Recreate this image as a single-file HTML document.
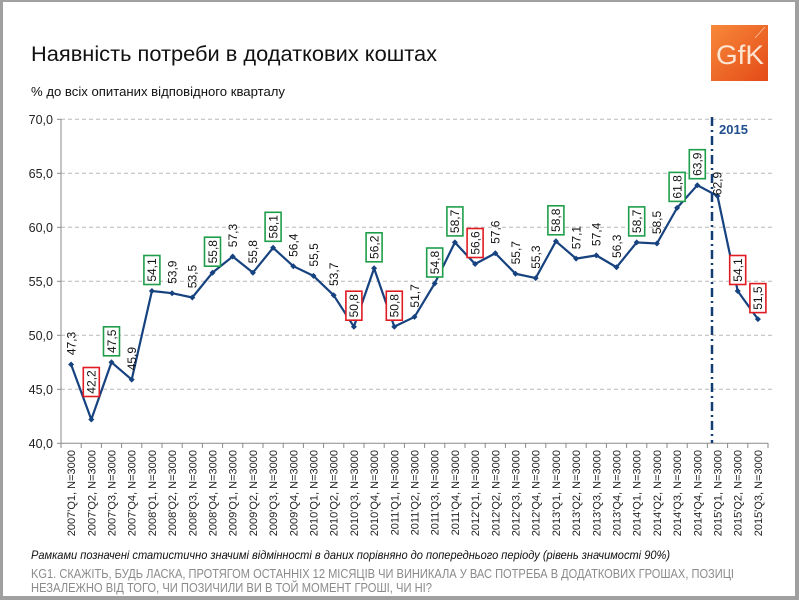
<!DOCTYPE html>
<html><head><meta charset="utf-8"><style>
html,body{margin:0;padding:0;background:#a0a0a0;}
svg{display:block;}
</style></head><body>
<svg width="799" height="600" viewBox="0 0 799 600" xmlns="http://www.w3.org/2000/svg" font-family="'Liberation Sans', Arial, sans-serif">
<defs>
<linearGradient id="gfk" x1="0" y1="0" x2="1" y2="1">
<stop offset="0" stop-color="#f7893a"/><stop offset="1" stop-color="#e44a17"/>
</linearGradient>
</defs>
<rect x="0" y="0" width="799" height="600" fill="#a0a0a0"/>
<rect x="3" y="2" width="792" height="594" fill="#ffffff"/>

<!-- Title -->
<text x="31" y="61" font-size="21" fill="#111" textLength="406" lengthAdjust="spacingAndGlyphs">Наявність потреби в додаткових коштах</text>
<text x="31" y="96" font-size="12.5" fill="#111" textLength="254" lengthAdjust="spacingAndGlyphs">% до всіх опитаних відповідного кварталу</text>

<!-- GfK logo -->
<rect x="711" y="25" width="57" height="56" fill="url(#gfk)"/>
<line x1="765" y1="27" x2="755" y2="38" stroke="#ffd9c0" stroke-width="0.8" opacity="0.8"/>
<text x="716" y="64" font-size="27" fill="#fff3e6" fill-opacity="0.9" textLength="48" lengthAdjust="spacingAndGlyphs">GfK</text>

<!-- gridlines -->
<g stroke="#b8b8b8" stroke-width="1" stroke-dasharray="4 3">
<line x1="61" y1="119.3" x2="772" y2="119.3"/>
<line x1="61" y1="173.3" x2="772" y2="173.3"/>
<line x1="61" y1="227.3" x2="772" y2="227.3"/>
<line x1="61" y1="281.3" x2="772" y2="281.3"/>
<line x1="61" y1="335.3" x2="772" y2="335.3"/>
<line x1="61" y1="389.3" x2="772" y2="389.3"/>
</g>
<!-- axes -->
<g stroke="#8a8a8a" stroke-width="1">
<line x1="61" y1="119" x2="61" y2="443.3"/>
<line x1="61" y1="443.3" x2="768" y2="443.3"/>
<line x1="57" y1="119.3" x2="61" y2="119.3"/>
<line x1="57" y1="173.3" x2="61" y2="173.3"/>
<line x1="57" y1="227.3" x2="61" y2="227.3"/>
<line x1="57" y1="281.3" x2="61" y2="281.3"/>
<line x1="57" y1="335.3" x2="61" y2="335.3"/>
<line x1="57" y1="389.3" x2="61" y2="389.3"/>
<line x1="57" y1="443.3" x2="61" y2="443.3"/>
</g>
<g stroke="#8a8a8a" stroke-width="1">
<line x1="61" y1="443" x2="61" y2="448"/><line x1="81.2" y1="443" x2="81.2" y2="448"/><line x1="101.4" y1="443" x2="101.4" y2="448"/><line x1="121.6" y1="443" x2="121.6" y2="448"/><line x1="141.8" y1="443" x2="141.8" y2="448"/><line x1="162" y1="443" x2="162" y2="448"/><line x1="182.2" y1="443" x2="182.2" y2="448"/><line x1="202.4" y1="443" x2="202.4" y2="448"/><line x1="222.6" y1="443" x2="222.6" y2="448"/><line x1="242.8" y1="443" x2="242.8" y2="448"/><line x1="263" y1="443" x2="263" y2="448"/><line x1="283.2" y1="443" x2="283.2" y2="448"/><line x1="303.4" y1="443" x2="303.4" y2="448"/><line x1="323.6" y1="443" x2="323.6" y2="448"/><line x1="343.8" y1="443" x2="343.8" y2="448"/><line x1="364" y1="443" x2="364" y2="448"/><line x1="384.2" y1="443" x2="384.2" y2="448"/><line x1="404.4" y1="443" x2="404.4" y2="448"/><line x1="424.6" y1="443" x2="424.6" y2="448"/><line x1="444.8" y1="443" x2="444.8" y2="448"/><line x1="465" y1="443" x2="465" y2="448"/><line x1="485.2" y1="443" x2="485.2" y2="448"/><line x1="505.4" y1="443" x2="505.4" y2="448"/><line x1="525.6" y1="443" x2="525.6" y2="448"/><line x1="545.8" y1="443" x2="545.8" y2="448"/><line x1="566" y1="443" x2="566" y2="448"/><line x1="586.2" y1="443" x2="586.2" y2="448"/><line x1="606.4" y1="443" x2="606.4" y2="448"/><line x1="626.6" y1="443" x2="626.6" y2="448"/><line x1="646.8" y1="443" x2="646.8" y2="448"/><line x1="667" y1="443" x2="667" y2="448"/><line x1="687.2" y1="443" x2="687.2" y2="448"/><line x1="707.4" y1="443" x2="707.4" y2="448"/><line x1="727.6" y1="443" x2="727.6" y2="448"/><line x1="747.8" y1="443" x2="747.8" y2="448"/><line x1="768" y1="443" x2="768" y2="448"/>
</g>

<!-- y labels -->
<g font-size="12.5" fill="#222" text-anchor="end">
<text x="53" y="124">70,0</text>
<text x="53" y="178">65,0</text>
<text x="53" y="232">60,0</text>
<text x="53" y="286">55,0</text>
<text x="53" y="340">50,0</text>
<text x="53" y="394">45,0</text>
<text x="53" y="448">40,0</text>
</g>

<!-- 2015 divider -->
<line x1="712" y1="117" x2="712" y2="443" stroke="#123d73" stroke-width="2.5" stroke-dasharray="9 4 2 4"/>
<text x="719" y="134" font-size="13" font-weight="bold" fill="#1f4e8c">2015</text>

<!-- series -->
<polyline fill="none" stroke="#16427f" stroke-width="2.2" stroke-linejoin="round" points="71.1,364.46 91.3,419.54 111.5,362.3 131.7,379.58 151.9,291.02 172.1,293.18 192.3,297.5 212.5,272.66 232.7,256.46 252.9,272.66 273.1,247.82 293.3,266.18 313.5,275.9 333.7,295.34 353.9,326.66 374.1,268.34 394.3,326.66 414.5,316.94 434.7,283.46 454.9,242.42 475.1,264.02 495.3,253.22 515.5,273.74 535.7,278.06 555.9,241.34 576.1,258.62 596.3,255.38 616.5,267.26 636.7,242.42 656.9,243.5 677.1,207.86 697.3,185.18 717.5,195.98 737.7,291.02 757.9,319.1"/>
<g fill="#16427f">
<path d="M71.1,361.5l3,3l-3,3l-3,-3z"/><path d="M91.3,416.5l3,3l-3,3l-3,-3z"/><path d="M111.5,359.3l3,3l-3,3l-3,-3z"/><path d="M131.7,376.6l3,3l-3,3l-3,-3z"/><path d="M151.9,288l3,3l-3,3l-3,-3z"/><path d="M172.1,290.2l3,3l-3,3l-3,-3z"/><path d="M192.3,294.5l3,3l-3,3l-3,-3z"/><path d="M212.5,269.7l3,3l-3,3l-3,-3z"/><path d="M232.7,253.5l3,3l-3,3l-3,-3z"/><path d="M252.9,269.7l3,3l-3,3l-3,-3z"/><path d="M273.1,244.8l3,3l-3,3l-3,-3z"/><path d="M293.3,263.2l3,3l-3,3l-3,-3z"/><path d="M313.5,272.9l3,3l-3,3l-3,-3z"/><path d="M333.7,292.3l3,3l-3,3l-3,-3z"/><path d="M353.9,323.7l3,3l-3,3l-3,-3z"/><path d="M374.1,265.3l3,3l-3,3l-3,-3z"/><path d="M394.3,323.7l3,3l-3,3l-3,-3z"/><path d="M414.5,313.9l3,3l-3,3l-3,-3z"/><path d="M434.7,280.5l3,3l-3,3l-3,-3z"/><path d="M454.9,239.4l3,3l-3,3l-3,-3z"/><path d="M475.1,261l3,3l-3,3l-3,-3z"/><path d="M495.3,250.2l3,3l-3,3l-3,-3z"/><path d="M515.5,270.7l3,3l-3,3l-3,-3z"/><path d="M535.7,275.1l3,3l-3,3l-3,-3z"/><path d="M555.9,238.3l3,3l-3,3l-3,-3z"/><path d="M576.1,255.6l3,3l-3,3l-3,-3z"/><path d="M596.3,252.4l3,3l-3,3l-3,-3z"/><path d="M616.5,264.3l3,3l-3,3l-3,-3z"/><path d="M636.7,239.4l3,3l-3,3l-3,-3z"/><path d="M656.9,240.5l3,3l-3,3l-3,-3z"/><path d="M677.1,204.9l3,3l-3,3l-3,-3z"/><path d="M697.3,182.2l3,3l-3,3l-3,-3z"/><path d="M717.5,193l3,3l-3,3l-3,-3z"/><path d="M737.7,288l3,3l-3,3l-3,-3z"/><path d="M757.9,316.1l3,3l-3,3l-3,-3z"/>
</g>

<!-- label boxes -->
<g fill="#fff" stroke-width="1.6">
<rect x="83.3" y="367.5" width="16" height="29" stroke="#e01b22"/>
<rect x="103.5" y="326.8" width="16" height="29" stroke="#1e9e4a"/>
<rect x="143.9" y="255.5" width="16" height="29" stroke="#1e9e4a"/>
<rect x="204.5" y="237.2" width="16" height="29" stroke="#1e9e4a"/>
<rect x="265.1" y="212.3" width="16" height="29" stroke="#1e9e4a"/>
<rect x="345.9" y="291.2" width="16" height="29" stroke="#e01b22"/>
<rect x="366.1" y="232.8" width="16" height="29" stroke="#1e9e4a"/>
<rect x="386.3" y="291.2" width="16" height="29" stroke="#e01b22"/>
<rect x="426.7" y="248" width="16" height="29" stroke="#1e9e4a"/>
<rect x="446.9" y="206.9" width="16" height="29" stroke="#1e9e4a"/>
<rect x="467.1" y="228.5" width="16" height="29" stroke="#e01b22"/>
<rect x="547.9" y="205.8" width="16" height="29" stroke="#1e9e4a"/>
<rect x="628.7" y="206.9" width="16" height="29" stroke="#1e9e4a"/>
<rect x="669.1" y="172.4" width="16" height="29" stroke="#1e9e4a"/>
<rect x="689.3" y="149.7" width="16" height="29" stroke="#1e9e4a"/>
<rect x="729.7" y="255.5" width="16" height="29" stroke="#e01b22"/>
<rect x="749.9" y="283.6" width="16" height="29" stroke="#e01b22"/>
</g>

<!-- data labels -->
<g font-size="12" fill="#111" text-anchor="middle">
<text x="75.4" y="343.5" transform="rotate(-90 75.4 343.5)">47,3</text>
<text x="95.6" y="382" transform="rotate(-90 95.6 382)">42,2</text>
<text x="115.8" y="341.3" transform="rotate(-90 115.8 341.3)">47,5</text>
<text x="136" y="358.6" transform="rotate(-90 136 358.6)">45,9</text>
<text x="156.2" y="270" transform="rotate(-90 156.2 270)">54,1</text>
<text x="176.4" y="272.2" transform="rotate(-90 176.4 272.2)">53,9</text>
<text x="196.6" y="276.5" transform="rotate(-90 196.6 276.5)">53,5</text>
<text x="216.8" y="251.7" transform="rotate(-90 216.8 251.7)">55,8</text>
<text x="237" y="235.5" transform="rotate(-90 237 235.5)">57,3</text>
<text x="257.2" y="251.7" transform="rotate(-90 257.2 251.7)">55,8</text>
<text x="277.4" y="226.8" transform="rotate(-90 277.4 226.8)">58,1</text>
<text x="297.6" y="245.2" transform="rotate(-90 297.6 245.2)">56,4</text>
<text x="317.8" y="254.9" transform="rotate(-90 317.8 254.9)">55,5</text>
<text x="338" y="274.3" transform="rotate(-90 338 274.3)">53,7</text>
<text x="358.2" y="305.7" transform="rotate(-90 358.2 305.7)">50,8</text>
<text x="378.4" y="247.3" transform="rotate(-90 378.4 247.3)">56,2</text>
<text x="398.6" y="305.7" transform="rotate(-90 398.6 305.7)">50,8</text>
<text x="418.8" y="295.9" transform="rotate(-90 418.8 295.9)">51,7</text>
<text x="439" y="262.5" transform="rotate(-90 439 262.5)">54,8</text>
<text x="459.2" y="221.4" transform="rotate(-90 459.2 221.4)">58,7</text>
<text x="479.4" y="243" transform="rotate(-90 479.4 243)">56,6</text>
<text x="499.6" y="232.2" transform="rotate(-90 499.6 232.2)">57,6</text>
<text x="519.8" y="252.7" transform="rotate(-90 519.8 252.7)">55,7</text>
<text x="540" y="257.1" transform="rotate(-90 540 257.1)">55,3</text>
<text x="560.2" y="220.3" transform="rotate(-90 560.2 220.3)">58,8</text>
<text x="580.4" y="237.6" transform="rotate(-90 580.4 237.6)">57,1</text>
<text x="600.6" y="234.4" transform="rotate(-90 600.6 234.4)">57,4</text>
<text x="620.8" y="246.3" transform="rotate(-90 620.8 246.3)">56,3</text>
<text x="641" y="221.4" transform="rotate(-90 641 221.4)">58,7</text>
<text x="661.2" y="222.5" transform="rotate(-90 661.2 222.5)">58,5</text>
<text x="681.4" y="186.9" transform="rotate(-90 681.4 186.9)">61,8</text>
<text x="701.6" y="164.2" transform="rotate(-90 701.6 164.2)">63,9</text>
<text x="721.5" y="183.5" transform="rotate(-90 721.5 183.5)">62,9</text>
<text x="742" y="270" transform="rotate(-90 742 270)">54,1</text>
<text x="762.2" y="298.1" transform="rotate(-90 762.2 298.1)">51,5</text>
</g>

<!-- x labels -->
<g font-size="11" fill="#222" text-anchor="end">
<text x="75.1" y="450" transform="rotate(-90 75.1 450)">2007'Q1, N=3000</text>
<text x="95.3" y="450" transform="rotate(-90 95.3 450)">2007'Q2, N=3000</text>
<text x="115.5" y="450" transform="rotate(-90 115.5 450)">2007'Q3, N=3000</text>
<text x="135.7" y="450" transform="rotate(-90 135.7 450)">2007'Q4, N=3000</text>
<text x="155.9" y="450" transform="rotate(-90 155.9 450)">2008'Q1, N=3000</text>
<text x="176.1" y="450" transform="rotate(-90 176.1 450)">2008'Q2, N=3000</text>
<text x="196.3" y="450" transform="rotate(-90 196.3 450)">2008'Q3, N=3000</text>
<text x="216.5" y="450" transform="rotate(-90 216.5 450)">2008'Q4, N=3000</text>
<text x="236.7" y="450" transform="rotate(-90 236.7 450)">2009'Q1, N=3000</text>
<text x="256.9" y="450" transform="rotate(-90 256.9 450)">2009'Q2, N=3000</text>
<text x="277.1" y="450" transform="rotate(-90 277.1 450)">2009'Q3, N=3000</text>
<text x="297.3" y="450" transform="rotate(-90 297.3 450)">2009'Q4, N=3000</text>
<text x="317.5" y="450" transform="rotate(-90 317.5 450)">2010'Q1, N=3000</text>
<text x="337.7" y="450" transform="rotate(-90 337.7 450)">2010'Q2, N=3000</text>
<text x="357.9" y="450" transform="rotate(-90 357.9 450)">2010'Q3, N=3000</text>
<text x="378.1" y="450" transform="rotate(-90 378.1 450)">2010'Q4, N=3000</text>
<text x="398.3" y="450" transform="rotate(-90 398.3 450)">2011'Q1, N=3000</text>
<text x="418.5" y="450" transform="rotate(-90 418.5 450)">2011'Q2, N=3000</text>
<text x="438.7" y="450" transform="rotate(-90 438.7 450)">2011'Q3, N=3000</text>
<text x="458.9" y="450" transform="rotate(-90 458.9 450)">2011'Q4, N=3000</text>
<text x="479.1" y="450" transform="rotate(-90 479.1 450)">2012'Q1, N=3000</text>
<text x="499.3" y="450" transform="rotate(-90 499.3 450)">2012'Q2, N=3000</text>
<text x="519.5" y="450" transform="rotate(-90 519.5 450)">2012'Q3, N=3000</text>
<text x="539.7" y="450" transform="rotate(-90 539.7 450)">2012'Q4, N=3000</text>
<text x="559.9" y="450" transform="rotate(-90 559.9 450)">2013'Q1, N=3000</text>
<text x="580.1" y="450" transform="rotate(-90 580.1 450)">2013'Q2, N=3000</text>
<text x="600.3" y="450" transform="rotate(-90 600.3 450)">2013'Q3, N=3000</text>
<text x="620.5" y="450" transform="rotate(-90 620.5 450)">2013'Q4, N=3000</text>
<text x="640.7" y="450" transform="rotate(-90 640.7 450)">2014'Q1, N=3000</text>
<text x="660.9" y="450" transform="rotate(-90 660.9 450)">2014'Q2, N=3000</text>
<text x="681.1" y="450" transform="rotate(-90 681.1 450)">2014'Q3, N=3000</text>
<text x="701.3" y="450" transform="rotate(-90 701.3 450)">2014'Q4, N=3000</text>
<text x="721.5" y="450" transform="rotate(-90 721.5 450)">2015'Q1, N=3000</text>
<text x="741.7" y="450" transform="rotate(-90 741.7 450)">2015'Q2, N=3000</text>
<text x="761.9" y="450" transform="rotate(-90 761.9 450)">2015'Q3, N=3000</text>
</g>

<!-- footer -->
<text x="31" y="559" font-size="12" font-style="italic" fill="#111" textLength="639" lengthAdjust="spacingAndGlyphs">Рамками позначені статистично значимі відмінності в даних порівняно до попереднього періоду (рівень значимості 90%)</text>
<text x="31" y="578" font-size="12.5" fill="#8a8a8a" textLength="703" lengthAdjust="spacingAndGlyphs">KG1. СКАЖІТЬ, БУДЬ ЛАСКА, ПРОТЯГОМ ОСТАННІХ 12 МІСЯЦІВ ЧИ ВИНИКАЛА У ВАС ПОТРЕБА В ДОДАТКОВИХ ГРОШАХ, ПОЗИЦІ</text>
<text x="31" y="592" font-size="12.5" fill="#8a8a8a" textLength="401" lengthAdjust="spacingAndGlyphs">НЕЗАЛЕЖНО ВІД ТОГО, ЧИ ПОЗИЧИЛИ ВИ В ТОЙ МОМЕНТ  ГРОШІ, ЧИ НІ?</text>
</svg>
</body></html>
